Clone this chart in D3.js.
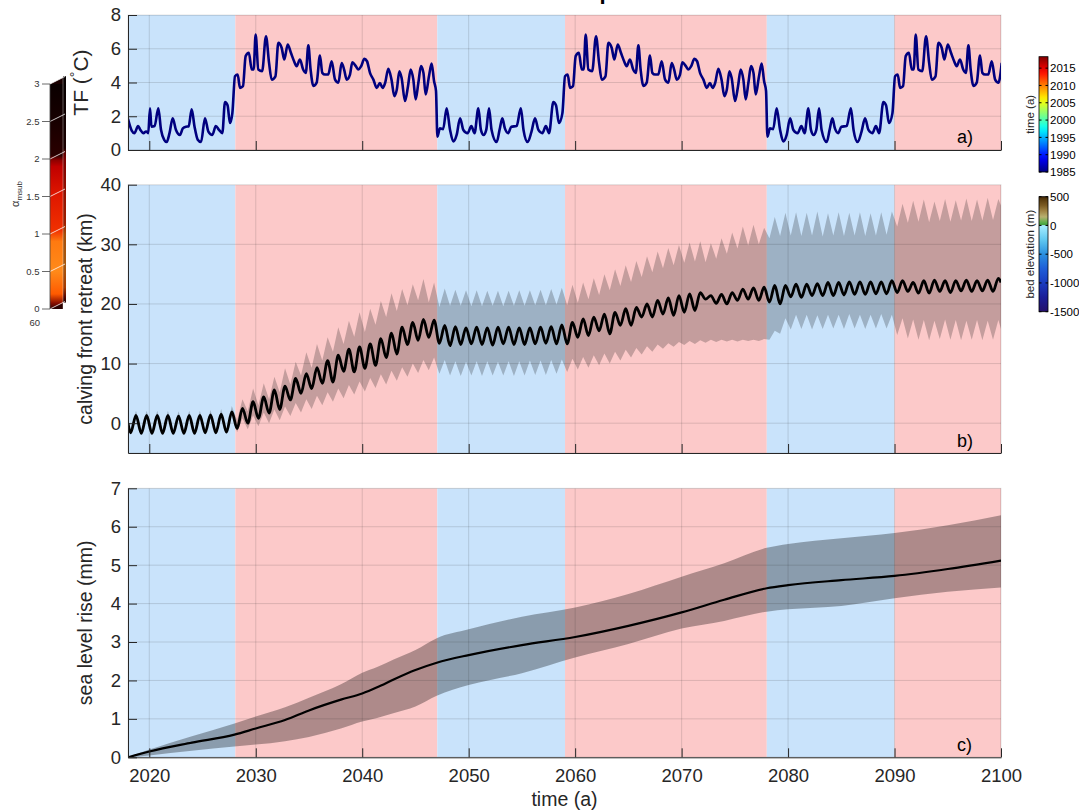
<!DOCTYPE html>
<html><head><meta charset="utf-8">
<script src="https://cdn.jsdelivr.net/npm/d3@7"></script>
<style>
body{margin:0;background:#fff;}
svg{display:block;font-family:"Liberation Sans",Arial,Helvetica,sans-serif;}
</style></head><body>
<svg id="chart" width="1079" height="811"></svg>
<script>
// ---------------- DATA ----------------
const xTicks=[2020,2030,2040,2050,2060,2070,2080,2090,2100];
const phaseStart=[2018,2028.08,2047.05,2059.05,2078.0,2090.0];
const phaseEnd=[2028.08,2047.05,2059.05,2078.0,2090.0,2100];
const phaseKind=['cold','warm','cold','warm','cold','warm'];

// a) thermal forcing TF (°C)
const tfYears=[
2018.0,2018.2,2018.35,2018.6,2018.95,2019.15,2019.45,2019.7,2019.9,2020.07,2020.2,2020.5,2020.85,2021.1,2021.4,2021.63,2021.9,2022.2,2022.5,2022.88,2023.15,2023.45,2023.7,2023.98,2024.25,2024.55,2024.86,2025.23,2025.55,2025.92,2026.25,2026.55,2026.86,2027.11,2027.35,2027.58,2027.8,
2028.05,2028.3,2028.52,2028.8,2029.05,2029.35,2029.62,2029.8,2029.99,2030.24,2030.6,2030.96,2031.25,2031.5,2031.85,2032.12,2032.43,2032.68,2033.0,2033.3,2033.6,2033.84,2034.15,2034.45,2034.7,2034.94,2035.15,2035.41,2035.72,2036.03,2036.25,2036.5,2036.8,2037.13,2037.45,2037.76,2038.07,2038.3,2038.54,2038.85,2039.07,2039.4,2039.64,2039.9,2040.2,2040.45,2040.73,2041.05,2041.36,2041.66,2041.92,2042.15,2042.45,2042.75,2043.02,2043.25,2043.49,2043.7,2044.02,2044.3,2044.55,2044.8,2045.02,2045.27,2045.52,2045.75,2045.96,2046.27,2046.52,2046.75,2046.93,
2047.06,2047.3,2047.6,2047.93,2048.25,2048.56,2048.87,2049.19,2049.5,2049.9,2050.25,2050.55,2050.91,2051.15,2051.4,2051.65,2051.91,2052.15,2052.63,2052.9,2053.16,2053.4,2053.72,2054.0,2054.5,2054.9,2055.15,2055.54,2055.9,2056.23,2056.55,2056.92,2057.25,2057.55,2057.95,2058.2,2058.48,2058.8,
2059.05,2059.3,2059.52,2059.8,2060.05,2060.35,2060.62,2060.8,2060.99,2061.24,2061.6,2061.96,2062.25,2062.5,2062.85,2063.12,2063.43,2063.68,2064.0,2064.3,2064.6,2064.84,2065.15,2065.45,2065.7,2065.94,2066.15,2066.41,2066.72,2067.03,2067.25,2067.5,2067.8,2068.13,2068.45,2068.76,2069.07,2069.3,2069.54,2069.85,2070.07,2070.4,2070.64,2070.9,2071.2,2071.45,2071.73,2072.05,2072.36,2072.66,2072.92,2073.15,2073.45,2073.75,2074.02,2074.25,2074.49,2074.7,2075.02,2075.3,2075.55,2075.8,2076.02,2076.27,2076.52,2076.75,2076.96,2077.27,2077.52,2077.75,2077.93,
2078.06,2078.3,2078.6,2078.93,2079.25,2079.56,2079.87,2080.19,2080.5,2080.9,2081.25,2081.55,2081.91,2082.15,2082.4,2082.65,2082.91,2083.15,2083.63,2083.9,2084.16,2084.4,2084.72,2085.0,2085.5,2085.9,2086.15,2086.54,2086.9,2087.23,2087.55,2087.92,2088.25,2088.55,2088.95,2089.2,2089.48,2089.8,
2090.05,2090.3,2090.52,2090.8,2091.05,2091.35,2091.62,2091.8,2091.99,2092.24,2092.6,2092.96,2093.25,2093.5,2093.85,2094.12,2094.43,2094.68,2095.0,2095.3,2095.6,2095.84,2096.15,2096.45,2096.7,2096.94,2097.15,2097.41,2097.72,2098.03,2098.25,2098.5,2098.8,2099.13,2099.45,2099.76,2100.07];
const tfValues=[
1.85,1.4,1.15,1.0,1.42,1.2,1.0,1.1,1.0,2.47,1.38,1.42,2.47,1.2,0.6,0.47,1.0,1.88,1.2,0.89,1.28,1.38,1.4,2.41,1.38,0.61,0.47,1.88,1.09,0.89,1.42,1.19,1.0,2.84,2.65,1.6,2.17,
4.37,4.47,3.68,3.78,5.56,5.76,4.77,4.77,6.84,4.77,4.67,6.74,5.16,4.17,4.37,6.35,6.06,5.36,6.25,5.76,5.26,4.97,5.36,4.77,4.57,6.2,4.77,3.8,3.99,5.6,4.57,4.47,4.47,5.26,4.17,3.99,5.16,4.77,4.17,4.47,5.2,4.97,4.77,4.97,5.4,5.26,4.57,4.17,3.68,3.97,3.68,3.97,4.81,4.17,3.19,3.58,4.67,4.27,2.9,3.78,4.77,4.17,3.0,3.97,4.97,4.57,3.29,4.37,5.12,4.07,3.5,
0.79,1.28,1.24,2.47,1.19,0.5,0.89,1.88,1.19,1.0,1.42,1.0,2.47,1.19,0.89,1.19,2.47,1.19,0.47,1.19,1.88,1.28,1.0,1.38,1.42,2.47,1.19,0.47,1.09,1.88,1.19,1.0,1.42,1.0,2.84,2.65,1.6,2.17,
4.37,4.47,3.68,3.78,5.56,5.76,4.77,4.77,6.84,4.77,4.67,6.74,5.16,4.17,4.37,6.35,6.06,5.36,6.25,5.76,5.26,4.97,5.36,4.77,4.57,6.2,4.77,3.8,3.99,5.6,4.57,4.47,4.47,5.26,4.17,3.99,5.16,4.77,4.17,4.47,5.2,4.97,4.77,4.97,5.4,5.26,4.57,4.17,3.68,3.97,3.68,3.97,4.81,4.17,3.19,3.58,4.67,4.27,2.9,3.78,4.77,4.17,3.0,3.97,4.97,4.57,3.29,4.37,5.12,4.07,3.5,
0.79,1.28,1.24,2.47,1.19,0.5,0.89,1.88,1.19,1.0,1.42,1.0,2.47,1.19,0.89,1.19,2.47,1.19,0.47,1.19,1.88,1.28,1.0,1.38,1.42,2.47,1.19,0.47,1.09,1.88,1.19,1.0,1.42,1.0,2.84,2.65,1.6,2.17,
4.37,4.47,3.68,3.78,5.56,5.76,4.77,4.77,6.84,4.77,4.67,6.74,5.16,4.17,4.37,6.35,6.06,5.36,6.25,5.76,5.26,4.97,5.36,4.77,4.57,6.2,4.77,3.8,3.99,5.6,4.57,4.47,4.47,5.26,4.17,3.99,5.16];

// b) calving front retreat (km): one trough (~Y+0.25) and one peak (~Y+0.75) per year, 2018..2099
const retreatFirstYear=2018;
const retreatTrough=[-1.6,-1.7,-1.7,-1.7,-1.7,-1.7,-1.7,-1.6,-1.6,-1.5,
-0.9,0.0,0.8,1.7,2.3,3.9,5.0,5.8,6.7,6.9,8.7,8.6,9.2,9.7,11.0,11.6,13.2,13.9,14.4,
13.4,13.0,13.2,13.3,13.2,13.1,13.3,13.2,13.2,13.3,13.4,13.3,
13.3,14.4,14.7,15.5,15.0,16.4,16.4,17.8,17.8,18.3,18.1,18.6,18.9,20.8,20.1,20.0,20.6,20.8,20.6,
20.3,20.0,21.2,21.1,21.4,21.4,21.4,21.5,21.6,21.6,21.7,21.7,
21.9,22.1,21.8,21.8,22.1,21.9,22.2,22.1,22.2,22.1];
const retreatPeak=[1.3,1.3,1.3,1.3,1.2,1.3,1.3,1.4,1.5,1.9,
2.5,3.6,4.4,5.6,6.2,7.5,8.3,9.3,10.5,11.4,12.4,12.8,13.3,14.2,15.1,16.1,16.9,17.4,17.3,
16.4,16.2,16.0,16.1,16.0,16.1,16.1,16.0,16.0,16.1,16.2,16.5,
16.9,17.5,17.8,18.3,18.6,19.2,19.4,20.0,20.6,21.0,21.4,21.7,21.9,21.4,21.6,21.9,22.5,22.7,22.8,
23.1,23.1,23.3,23.3,23.4,23.6,23.6,23.7,23.7,23.7,23.7,23.9,
23.9,23.6,23.9,24.0,23.9,23.9,24.0,23.9,24.0,24.3];
const upperValley=[-1.1,-1.2,-1.2,-1.2,-1.2,-1.2,-1.2,-1.1,-1.1,-1.0,
0.5,2.0,3.0,4.0,5.2,6.5,8.0,9.3,10.5,12.0,13.3,14.5,15.3,16.5,17.8,18.8,19.8,20.6,20.3,
19.5,19.7,19.7,19.6,19.6,19.7,19.6,19.7,19.7,19.8,19.8,19.9,
19.8,20.2,20.8,21.5,22.3,23.0,23.7,24.5,25.3,26.0,26.5,26.9,27.1,27.0,27.6,28.4,29.3,29.8,30.0,
31.0,31.4,31.5,31.4,31.5,31.3,31.5,31.4,31.5,31.4,31.5,31.6,
33.0,33.6,33.8,33.7,33.9,33.8,34.0,33.9,34.0,34.1];
const upperSpike=[2.1,2.1,2.1,2.1,2.0,2.1,2.1,2.2,2.4,2.9,
4.0,5.8,6.7,7.8,9.2,10.3,11.9,13.3,14.4,16.1,17.2,18.6,19.2,20.5,21.8,22.5,23.3,24.2,23.6,
22.6,22.4,22.3,22.3,22.2,22.2,22.2,22.3,22.3,22.4,22.5,22.7,
23.2,23.6,24.3,25.0,25.8,26.5,27.2,28.0,28.8,29.4,29.9,30.3,30.5,30.2,31.0,32.0,33.0,33.3,32.8,
34.6,35.3,35.4,35.3,35.5,35.2,35.4,35.3,35.4,35.2,35.4,35.5,
36.8,37.3,37.5,37.2,37.6,37.4,37.7,37.5,37.8,37.6];
const lowerSpike=[-1.9,-2.0,-2.0,-2.0,-2.0,-2.0,-2.0,-1.9,-1.9,-1.8,
-1.5,-1.0,-0.5,0.0,0.5,1.2,1.8,2.4,3.0,3.6,4.2,4.8,5.3,5.9,6.5,7.1,7.8,8.4,8.9,
8.3,8.0,7.9,8.0,7.9,8.0,8.0,7.9,8.0,8.1,8.1,8.3,
8.6,9.0,9.3,9.7,10.0,10.5,11.0,11.5,12.0,12.5,12.8,13.1,13.3,13.5,13.6,13.7,13.7,13.8,13.8,
14.0,15.0,15.7,15.8,15.7,15.8,15.9,15.8,15.9,15.8,15.9,15.9,
14.8,14.2,14.0,13.9,14.1,14.0,13.9,14.0,13.9,14.0];
const lowerHump=[0.7,0.7,0.7,0.7,0.6,0.7,0.7,0.8,0.9,1.2,
0.8,1.3,1.8,2.3,2.8,3.4,4.0,4.6,5.2,5.8,6.4,7.0,7.6,8.2,8.8,9.4,10.0,10.6,11.0,
10.6,10.4,10.3,10.4,10.4,10.3,10.4,10.4,10.5,10.5,10.6,10.7,
10.8,11.1,11.4,11.7,12.0,12.3,12.6,12.9,13.2,13.4,13.6,13.8,13.9,14.0,14.0,14.0,14.0,14.0,14.1,
15.5,17.6,18.2,18.2,18.1,18.2,18.2,18.3,18.2,18.2,18.3,18.2,
17.6,17.4,17.3,17.2,17.4,17.3,17.2,17.3,17.2,17.3];
const retreatEdgeYears=[2018,2100];
const retreatEdgeMean=[0.0,23.6];
const retreatEdgeUpper=[0.3,36.5];
const retreatEdgeLower=[-0.3,15.8];

// c) sea level rise (mm)
const slrYears=[2018,2020,2024,2028,2030,2032.75,2035,2038,2040,2041.4,2043,2045,2047,2050,2055,2060,2065,2070,2074,2078,2080,2085,2090,2095,2100];
const slrMean=[0,0.15,0.38,0.59,0.75,0.97,1.22,1.5,1.66,1.82,2.03,2.27,2.46,2.66,2.92,3.13,3.42,3.77,4.1,4.4,4.48,4.61,4.72,4.9,5.12];
const slrUpper=[0,0.2,0.55,0.88,1.06,1.3,1.55,1.9,2.2,2.35,2.55,2.79,3.1,3.33,3.66,3.9,4.25,4.7,5.05,5.45,5.55,5.7,5.84,6.04,6.3];
const slrLower=[0,0.05,0.17,0.28,0.33,0.42,0.53,0.75,0.93,1.02,1.15,1.32,1.6,1.88,2.19,2.6,2.95,3.35,3.55,3.79,3.85,3.94,4.14,4.31,4.42];

// colorbars
const timeCbTicks=[1985,1990,1995,2000,2005,2010,2015];
const timeCbDomain=[1985,2018.3];
const bedCbTicks=[500,0,-500,-1000,-1500];
const bedCbDomain=[-1500,500];
const bedStopValues=[-1500,-1250,-1000,-750,-500,-250,-1,0,50,150,250,350,450,500];
const bedStopColors=['#25106a','#1b1e98','#1a3cc0','#1f5ed8','#2a90e0','#60c8f0','#a8eeff','#3a9a3a','#5aaf4a','#b8b070','#a08444','#7a5a22','#5a3c0e','#3f2606'];
const alphaTicks=[0,0.5,1,1.5,2,2.5,3];
const alphaTickLabels=['0','0.5','1','1.5','2','2.5','3'];

// ---------------- DRAWING ----------------
const svg=d3.select('#chart');
const FONT='"Liberation Sans",Arial,Helvetica,sans-serif';
const COLD='rgb(201,227,251)', WARM='rgb(252,201,201)';
const GRID='rgba(38,38,38,0.15)', AX='#262626';
const X0=128,X1=1001;
const x=d3.scaleLinear().domain([2018,2100]).range([X0,X1]);
const defs=svg.append('defs');

const panels=[
 {id:'a',top:15,bottom:150,domain:[0,8],ticks:[0,2,4,6,8]},
 {id:'b',top:184.7,bottom:453,domain:[-5,40],ticks:[0,10,20,30,40]},
 {id:'c',top:488.3,bottom:757.3,domain:[0,7],ticks:[0,1,2,3,4,5,6,7]}
];

function setup(p){
  const y=d3.scaleLinear().domain(p.domain).range([p.bottom,p.top]);
  defs.append('clipPath').attr('id','clip'+p.id).append('rect')
    .attr('x',X0).attr('y',p.top).attr('width',X1-X0).attr('height',p.bottom-p.top);
  const g=svg.append('g');
  const inner=g.append('g').attr('clip-path','url(#clip'+p.id+')');
  inner.selectAll(null).data(d3.range(phaseStart.length)).enter().append('rect')
    .attr('x',i=>x(phaseStart[i])).attr('width',i=>x(phaseEnd[i])-x(phaseStart[i]))
    .attr('y',p.top).attr('height',p.bottom-p.top)
    .attr('fill',i=>phaseKind[i]==='cold'?COLD:WARM);
  inner.selectAll(null).data(xTicks).enter().append('line')
    .attr('x1',d=>x(d)).attr('x2',d=>x(d)).attr('y1',p.top).attr('y2',p.bottom)
    .attr('stroke',GRID).attr('stroke-width',1);
  inner.selectAll(null).data(p.ticks).enter().append('line')
    .attr('x1',X0).attr('x2',X1).attr('y1',d=>y(d)).attr('y2',d=>y(d))
    .attr('stroke',GRID).attr('stroke-width',1);
  p.y=y;p.g=g;p.inner=inner;
}
panels.forEach(setup);

function axes(p,labels){
  const g=p.g;
  g.append('rect').attr('x',X0).attr('y',p.top).attr('width',X1-X0).attr('height',p.bottom-p.top)
    .attr('fill','none').attr('stroke','rgba(0,0,0,0.10)').attr('stroke-width',1);
  const ax=d3.axisBottom(x).tickValues(xTicks).tickSizeInner(-9).tickSizeOuter(0).tickPadding(12);
  if(!labels) ax.tickFormat('');
  else ax.tickFormat(d3.format('d'));
  const gx=g.append('g').attr('transform',`translate(0,${p.bottom})`).call(ax);
  const ay=d3.axisLeft(p.y).tickValues(p.ticks).tickSizeInner(-9).tickSizeOuter(0).tickPadding(7).tickFormat(d3.format('d'));
  const gy=g.append('g').attr('transform',`translate(${X0},0)`).call(ay);
  [gx,gy].forEach(s=>{
    s.attr('font-family',FONT).attr('font-size',18.5);
    s.select('.domain').attr('stroke',AX).attr('stroke-width',1);
    s.selectAll('.tick line').attr('stroke',AX).attr('stroke-width',1);
    s.selectAll('.tick text').attr('fill',AX);
  });
}

// panel a
{
  const p=panels[0];
  const pts=tfYears.map((t,i)=>({t,v:tfValues[i]}));
  p.inner.append('path').datum(pts)
    .attr('d',d3.line().x(d=>x(d.t)).y(d=>p.y(d.v)).curve(d3.curveMonotoneX))
    .attr('fill','none').attr('stroke','#00007f').attr('stroke-width',2.6).attr('stroke-linejoin','round');
  axes(p,false);
}
// panel b
{
  const p=panels[1];
  const pts=[{t:retreatEdgeYears[0],m:retreatEdgeMean[0],u:retreatEdgeUpper[0],l:retreatEdgeLower[0]}];
  retreatTrough.forEach((v,i)=>{
    const Y=retreatFirstYear+i;
    pts.push({t:Y+0.25,m:retreatTrough[i],u:upperValley[i],l:lowerSpike[i]});
    pts.push({t:Y+0.75,m:retreatPeak[i],u:upperSpike[i],l:lowerHump[i]});
  });
  pts.push({t:retreatEdgeYears[1],m:retreatEdgeMean[1],u:retreatEdgeUpper[1],l:retreatEdgeLower[1]});
  p.inner.append('path').datum(pts)
    .attr('d',d3.area().x(d=>x(d.t)).y0(d=>p.y(d.l)).y1(d=>p.y(d.u)))
    .attr('fill','#000').attr('fill-opacity',0.22);
  p.inner.append('path').datum(pts)
    .attr('d',d3.line().x(d=>x(d.t)).y(d=>p.y(d.m)).curve(d3.curveMonotoneX))
    .attr('fill','none').attr('stroke','#000').attr('stroke-width',2.8).attr('stroke-linejoin','round');
  axes(p,false);
}
// panel c
{
  const p=panels[2];
  const pts=slrYears.map((t,i)=>({t,m:slrMean[i],u:slrUpper[i],l:slrLower[i]}));
  p.inner.append('path').datum(pts)
    .attr('d',d3.area().x(d=>x(d.t)).y0(d=>p.y(d.l)).y1(d=>p.y(d.u)).curve(d3.curveMonotoneX))
    .attr('fill','#000').attr('fill-opacity',0.31);
  p.inner.append('path').datum(pts)
    .attr('d',d3.line().x(d=>x(d.t)).y(d=>p.y(d.m)).curve(d3.curveMonotoneX))
    .attr('fill','none').attr('stroke','#000').attr('stroke-width',2.2);
  axes(p,true);
}

// panel letters
[['a)',143],['b)',447],['c)',751]].forEach(([s,yy])=>{
  svg.append('text').attr('x',957).attr('y',yy).attr('font-family',FONT).attr('font-size',18)
    .attr('fill','#000').text(s);
});

// axis labels
function ylab(txt,cx,cy,fs){
  return svg.append('text').attr('transform',`translate(${cx},${cy}) rotate(-90)`)
    .attr('text-anchor','middle').attr('font-family',FONT).attr('font-size',fs).attr('fill',AX).text(txt);
}
{
  const t=svg.append('text').attr('transform',`translate(88,82.5) rotate(-90)`)
    .attr('text-anchor','middle').attr('font-family',FONT).attr('font-size',21).attr('fill',AX);
  t.append('tspan').text('TF (');
  t.append('tspan').attr('font-size',14).attr('dy',-8).text('°');
  t.append('tspan').attr('dy',8).text('C)');
}
ylab('calving front retreat (km)',92,319,19.5);
ylab('sea level rise (mm)',92,622.8,19.5);
svg.append('text').attr('x',564.5).attr('y',806).attr('text-anchor','middle')
  .attr('font-family',FONT).attr('font-size',19.5).attr('fill',AX).text('time (a)');

// clipped title remnant (the reference's bold title lies above the page; only a descender shows)
svg.append('text').attr('x',599.5).attr('y',-1.5).attr('font-family',FONT).attr('font-weight','bold')
  .attr('font-size',22).attr('fill','#000').text('p');

// ---------- right colorbars ----------
function gradient(id,vals,cols,dom){
  const lg=defs.append('linearGradient').attr('id',id).attr('x1',0).attr('y1',1).attr('x2',0).attr('y2',0);
  vals.forEach((v,i)=>lg.append('stop').attr('offset',(v-dom[0])/(dom[1]-dom[0])).attr('stop-color',cols[i]));
}
const jet=d3.scaleLinear().domain([0,0.125,0.375,0.625,0.875,1])
  .range(['#000080','#0000ff','#00ffff','#ffff00','#ff0000','#800000']);
const jetVals=d3.range(0,1.0001,0.05).map(f=>timeCbDomain[0]+f*(timeCbDomain[1]-timeCbDomain[0]));
gradient('gTime',jetVals,jetVals.map(v=>jet((v-timeCbDomain[0])/(timeCbDomain[1]-timeCbDomain[0]))),timeCbDomain);
gradient('gBed',bedStopValues,bedStopColors,bedCbDomain);

function colorbar(gid,dom,ticks,top,bottom,label){
  const cy=d3.scaleLinear().domain(dom).range([bottom,top]);
  const g=svg.append('g');
  g.append('rect').attr('x',1039).attr('y',top).attr('width',9).attr('height',bottom-top)
    .attr('fill',`url(#${gid})`).attr('stroke','#000').attr('stroke-width',0.8);
  g.selectAll(null).data(ticks).enter().append('line')
    .attr('x1',1045.5).attr('x2',1048).attr('y1',d=>cy(d)).attr('y2',d=>cy(d)).attr('stroke','#000').attr('stroke-width',1);
  g.selectAll(null).data(ticks).enter().append('line')
    .attr('x1',1039).attr('x2',1041.5).attr('y1',d=>cy(d)).attr('y2',d=>cy(d)).attr('stroke','#000').attr('stroke-width',1);
  g.selectAll(null).data(ticks).enter().append('text')
    .attr('x',1050).attr('y',d=>cy(d)).attr('dy','0.36em').attr('font-family',FONT).attr('font-size',11.5)
    .attr('fill','#000').text(d=>d);
  g.append('text').attr('transform',`translate(1034,${(top+bottom)/2}) rotate(-90)`).attr('text-anchor','middle')
    .attr('font-family',FONT).attr('font-size',11.5).attr('fill',AX).text(label);
}
colorbar('gTime',timeCbDomain,timeCbTicks,56.7,172,'time (a)');
colorbar('gBed',bedCbDomain,bedCbTicks,196.7,311.7,'bed elevation (m)');

// ---------- left 3D colorbar (alpha_msub) ----------
{
  const ay=d3.scaleLinear().domain([0,3]).range([309,84]);
  const hotVals=[0,0.08,0.2,0.5,0.9,1.05,1.5,1.9,1.98,2.05,2.5,3];
  const hotCols=['#300000','#8a0e00','#ff5a00','#ff8a1a','#ff7a10','#f03000','#e01800','#c00000','#900000','#2a0000','#180000','#0a0000'];
  gradient('gHot',hotVals,hotCols,[0,3]);
  const g=svg.append('g');
  g.append('polygon').attr('points',`50,${ay(3)} 65,${ay(3)-7.5} 66,${ay(3)-7.5} 66,${ay(3)} `).attr('fill','#1a0000');
  g.append('rect').attr('x',50).attr('y',ay(3)).attr('width',13).attr('height',ay(0)-ay(3)).attr('fill','url(#gHot)');
  g.append('rect').attr('x',63).attr('y',ay(3)-7.5).attr('width',3).attr('height',ay(0)-ay(3)+1).attr('fill','url(#gHot)');
  g.append('rect').attr('x',63).attr('y',ay(3)-7.5).attr('width',3).attr('height',ay(0)-ay(3)+1).attr('fill','#000').attr('fill-opacity',0.35);
  g.append('polygon').attr('points',`50,${ay(0)} 63,${ay(0)-6} 63,${ay(0)}`).attr('fill','#2a0000');
  g.selectAll(null).data(alphaTicks).enter().append('line')
    .attr('x1',50).attr('x2',65).attr('y1',d=>ay(d)).attr('y2',d=>ay(d)-7.5)
    .attr('stroke','#fff').attr('stroke-opacity',0.85).attr('stroke-width',0.9);
  g.append('line').attr('x1',63).attr('x2',63).attr('y1',ay(3)-6).attr('y2',ay(0))
    .attr('stroke','#fff').attr('stroke-opacity',0.5).attr('stroke-width',0.7);
  g.append('line').attr('x1',50).attr('x2',50).attr('y1',ay(3)).attr('y2',ay(0))
    .attr('stroke','#444').attr('stroke-width',0.8);
  g.selectAll(null).data(alphaTicks).enter().append('line')
    .attr('x1',42).attr('x2',50).attr('y1',d=>ay(d)).attr('y2',d=>ay(d))
    .attr('stroke','#444').attr('stroke-width',0.8);
  g.selectAll(null).data(alphaTicks).enter().append('text')
    .attr('x',39.5).attr('y',d=>ay(d)).attr('dy','0.36em').attr('text-anchor','end')
    .attr('font-family',FONT).attr('font-size',9.5).attr('fill','#333').text((d,i)=>alphaTickLabels[i]);
  g.append('text').attr('x',40).attr('y',326).attr('text-anchor','end').attr('font-family',FONT)
    .attr('font-size',9.5).attr('fill','#333').text('60');
  const lt=g.append('text').attr('transform','translate(19,194) rotate(-90)').attr('text-anchor','middle')
    .attr('font-family',FONT).attr('fill','#333');
  lt.append('tspan').attr('font-size',11).text('α');
  lt.append('tspan').attr('font-size',8).attr('dy',3).text('msub');
}
</script>
</body></html>
